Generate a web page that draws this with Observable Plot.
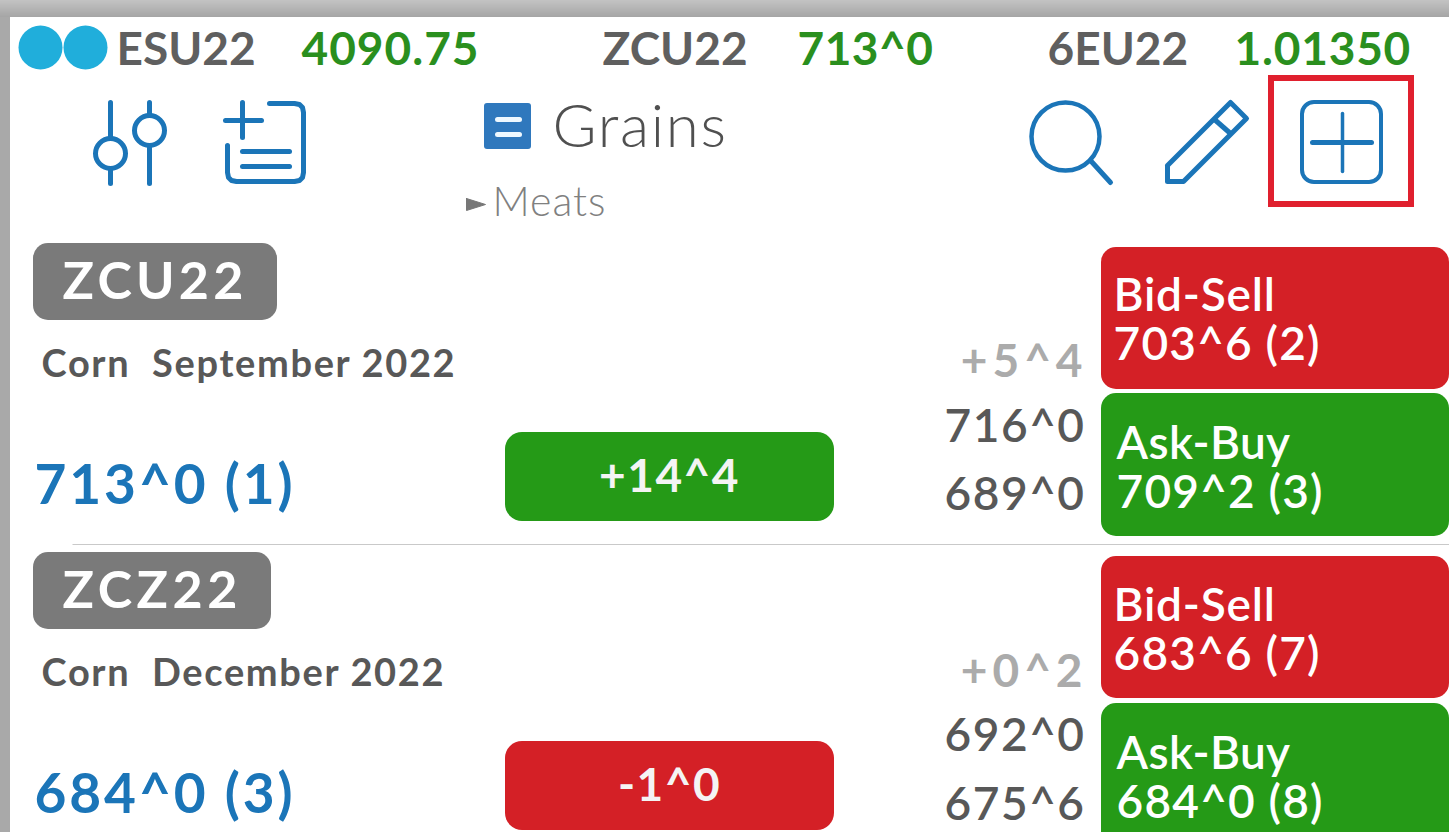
<!DOCTYPE html>
<html><head><meta charset="utf-8">
<style>html,body{margin:0;padding:0;background:#fff;overflow:hidden}svg{display:block}svg text{white-space:pre}</style>
<script src="https://cdn.jsdelivr.net/npm/d3@7"></script>
<script src="https://cdn.jsdelivr.net/npm/@observablehq/plot@0.6"></script>
</head><body><script>
// ---- values ----
const tickerSymbols = ["ESU22", "ZCU22", "6EU22"];
const tickerPrices = ["4090.75", "713^0", "1.01350"];
const activeList = "Grains";
const nextList = "Meats";
const contracts = ["ZCU22", "ZCZ22"];
const descriptions = ["Corn  September 2022", "Corn  December 2022"];
const lastPrices = ["713^0 (1)", "684^0 (3)"];
const netChanges = ["+14^4", "-1^0"];
const sessionChanges = ["+5^4", "+0^2"];
const highs = ["716^0", "692^0"];
const lows = ["689^0", "675^6"];
const bids = ["703^6 (2)", "683^6 (7)"];
const asks = ["709^2 (3)", "684^0 (8)"];
const directions = ["up", "down"];

// ---- layout and style ----
const W = 1449, H = 832;
const font = "Lato, 'Noto Sans', sans-serif";
const GREEN = "#259a17", RED = "#d42026", BLUE = "#1b75b8", GREY = "#585858";
const rowOffset = [0, 310];
const tagRight = [277, 271];
const marks = [];
const spacing = [];
const box = (x1, y1, x2, y2, o = {}) => marks.push(Plot.rect([0], {x1: () => x1, x2: () => x2, y1: () => y1, y2: () => y2, ...o}));
const label = (t, x, y, size, fill, o = {}, ls = 0) => {
  spacing.push(ls);
  marks.push(Plot.text([t], {x: () => x, y: () => y, text: d => d, fontSize: size, fill, fontFamily: font, lineAnchor: "bottom", textAnchor: "start", ...o}));
};
const path = (pts, o = {}) => marks.push(Plot.line(pts, {x: "0", y: "1", stroke: BLUE, strokeWidth: 5, strokeLinecap: "round", strokeLinejoin: "round", curve: "linear", ...o}));
const ring = (x, y, r, o = {}) => marks.push(Plot.dot([0], {x: () => x, y: () => y, r: () => r, stroke: BLUE, strokeWidth: 5, fill: "none", ...o}));

// window chrome
const shade = d3.interpolateRgb("#c2c2c2", "#a6a6a6");
d3.range(17).forEach(i => box(0, i, W, i + 1, {fill: shade(i / 16)}));
box(0, 17, 10, H, {fill: "#a9a9a9"});

// ticker strip
marks.push(Plot.dot([40, 85], {x: d => d, y: () => 47, r: () => 22, fill: "#20aedb", stroke: "none"}));
const tickerSymX = [116, 602, 1047], tickerPriceX = [301, 797, 1234], tickerPriceLs = [1, 0.5, 0.8];
tickerSymbols.forEach((s, i) => {
  label(s, tickerSymX[i], 64, 46, "#5f5f5f", {fontWeight: 700});
  label(tickerPrices[i], tickerPriceX[i], 64, 46, "#2a8f1e", {fontWeight: 700}, tickerPriceLs[i]);
});

// toolbar icons
path([[110, 102], [110, 137]]); path([[110, 169], [110, 183]]);
ring(110, 153, 15);
path([[149, 102], [149, 114]]); path([[149, 146], [149, 183]]);
ring(149, 130, 15);
path([[225, 120], [261, 120]]); path([[242, 102], [242, 137]]);
path([[269, 103], [294, 103], [299, 104], [302, 107], [303, 112], [303, 172], [302, 177], [299, 180], [294, 181], [236, 181], [231, 180], [228, 177], [227, 172], [227, 145]]);
path([[242, 151], [289, 151]]); path([[242, 166], [289, 166]]);
box(484, 103, 531, 149, {fill: "#2f78bd", rx: 3});
path([[497, 119], [519, 119]], {stroke: "#eef8ff", strokeWidth: 5}); path([[497, 134], [519, 134]], {stroke: "#eef8ff", strokeWidth: 5});
label(activeList, 552, 146, 60, "#505050", {fontWeight: 300}, 1.7);
path([[466, 198], [485, 204], [466, 210], [466, 198]], {stroke: "#777", fill: "#777", strokeWidth: 1});
label(nextList, 492, 215, 41, "#808080", {fontWeight: 300}, 1);

ring(1065, 136, 34, {strokeWidth: 4.5});
path([[1090, 160], [1110, 182]]);
path([[1167, 165], [1230, 102], [1246, 118], [1183, 181], [1167, 181], [1167, 165]]);
path([[1214, 119], [1230, 133]], {strokeLinecap: "butt"});
box(1302, 102, 1381, 182, {fill: "none", stroke: BLUE, strokeWidth: 4, rx: 12});
path([[1312, 142], [1371, 142]]); path([[1342, 113], [1342, 171]], {strokeWidth: 3.5});
box(1271, 78, 1411, 204, {fill: "none", stroke: "#e0202e", strokeWidth: 6});

// divider
path([[72, 544], [W, 544]], {stroke: "#c9c9c9", strokeWidth: 1, strokeLinecap: "butt"});

// contract rows
const tagLs = [4.2, 4.5];
contracts.forEach((c, i) => {
  const o = rowOffset[i], t = o - (i ? 1 : 0);
  box(33, 243 + t, tagRight[i], 320 + t, {fill: "#7a7a7a", rx: 15});
  label(c, 62, 298 + t, 52, "#fff", {fontWeight: 700}, tagLs[i]);
  label(descriptions[i], 41, 376 + t, 38, GREY, {fontWeight: 700}, 1.65);
  label(lastPrices[i], 34, 503 + t, 55, BLUE, {fontWeight: 700}, 2.9);
  box(505, 432 + t, 834, 521 + t, {fill: directions[i] === "up" ? GREEN : RED, rx: 17});
  label(netChanges[i], 669, 491 + t, 46, "#f4f4f4", {textAnchor: "middle", fontWeight: 700}, 1.5);
  label(sessionChanges[i], 1087, 376 + o, 46, "#ababab", {textAnchor: "end", fontWeight: 700}, 5);
  label(highs[i], 1085, 441 + t, 46, GREY, {textAnchor: "end", fontWeight: 600}, 1.5);
  label(lows[i], 1085, 509 + o, 46, GREY, {textAnchor: "end", fontWeight: 600}, 1.5);
  box(1101, 247 + t, W, 389 + t, {fill: RED, rx: 15});
  label("Bid-Sell", 1113, 310 + o, 46, "#fff", {fontWeight: 600}, 0.8);
  label(bids[i], 1113, 359 + o, 46, "#fff", {fontWeight: 600}, 1.2);
  box(1101, 393 + o, W, 536 + o, {fill: GREEN, rx: 15});
  label("Ask-Buy", 1116, 458 + o, 46, "#fff", {fontWeight: 600}, 0.4);
  label(asks[i], 1116, 507 + o, 46, "#fff", {fontWeight: 600}, 1.2);
});

const chart = Plot.plot({
  width: W, height: H, margin: 0,
  x: {domain: [0, W], range: [0, W], axis: null},
  y: {domain: [0, H], range: [0, H], axis: null},
  r: {type: "identity"},
  style: {background: "#fff", fontFamily: font},
  marks
});
d3.select(chart).selectAll("text").each(function (_, i) {
  if (spacing[i]) this.style.letterSpacing = spacing[i] + "px";
});
document.body.append(chart);
</script></body></html>
